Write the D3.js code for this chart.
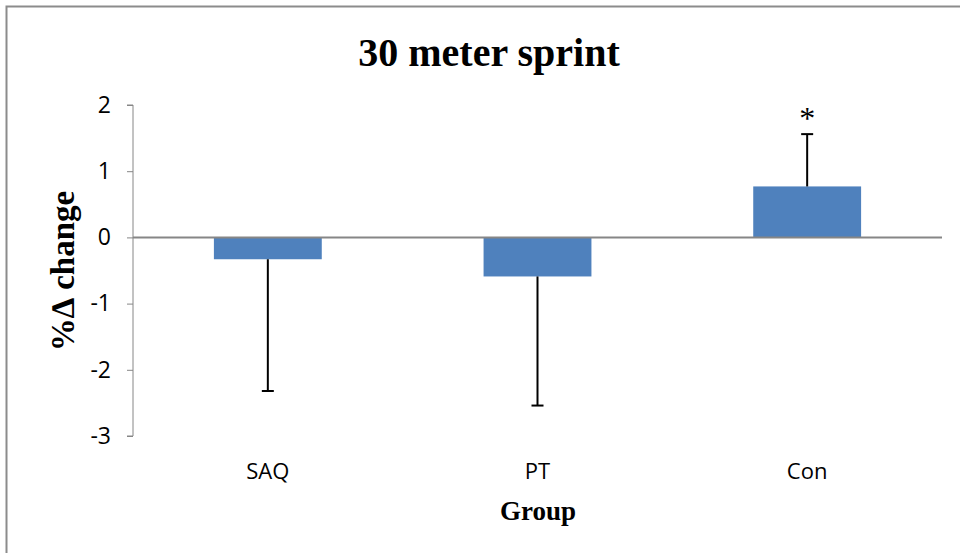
<!DOCTYPE html>
<html>
<head>
<meta charset="utf-8">
<script src="https://cdn.jsdelivr.net/npm/d3@7"></script>
<style>
  body { margin: 0; background: #fff; }
  svg { display: block; }
</style>
</head>
<body>
<svg id="chart" width="960" height="553"></svg>
<script>
// Chart data
const groups = ['SAQ', 'PT', 'Con'];
const means = [-0.33, -0.59, 0.77];
const errLow = [-2.32, -2.54, null];   // error bar end below the bar
const errHigh = [null, null, 1.56];    // error bar end above the bar
const marks = ['', '', '*'];
const yTicks = [2, 1, 0, -1, -2, -3];

const svg = d3.select('#chart');
const W = 960, H = 553;
const plot = {left: 133, right: 942, top: 105, bottom: 436};
const sans = '"Open Sans", "Liberation Sans", sans-serif';
const serif = '"Liberation Serif", "DejaVu Serif", serif';

// Outer frame (only left and top edges fall inside the picture)
svg.append('rect')
  .attr('x', 6.5).attr('y', 6.5)
  .attr('width', W + 10).attr('height', H + 10)
  .style('fill', 'none')
  .style('stroke', '#8c8c8c')
  .style('stroke-width', 2);

const x = d3.scaleBand()
  .domain(groups)
  .range([plot.left, plot.right])
  .paddingInner(0.6)
  .paddingOuter(0.3);

const y = d3.scaleLinear()
  .domain([-3, 2])
  .range([plot.bottom, plot.top]);

// Y axis
const yAxis = svg.append('g')
  .attr('transform', `translate(${plot.left}, 0)`)
  .call(d3.axisLeft(y).tickValues(yTicks).tickSize(6).tickPadding(16)
    .tickFormat(d => String(d)));
yAxis.select('.domain').attr('d', `M-6,${y(2)}H0V${y(-3)}H-6`).style('stroke', '#868686');
yAxis.selectAll('.tick line').style('stroke', '#868686');
yAxis.selectAll('.tick text')
  .style('font-family', sans)
  .style('font-size', '23px')
  .style('fill', '#000');

// Bars
const barG = svg.append('g').attr('class', 'bar-group');
barG.selectAll('rect')
  .data(groups)
  .join('rect')
  .attr('x', d => x(d))
  .attr('width', x.bandwidth())
  .attr('y', (d, i) => y(Math.max(0, means[i])))
  .attr('height', (d, i) => Math.abs(y(means[i]) - y(0)))
  .style('fill', '#4f81bd');

// Zero line
svg.append('line')
  .attr('x1', plot.left).attr('x2', plot.right)
  .attr('y1', y(0)).attr('y2', y(0))
  .style('stroke', '#868686')
  .style('stroke-width', 2);

// Error bars
const errG = svg.append('g').attr('class', 'error-group');
groups.forEach((g, i) => {
  const cx = x(g) + x.bandwidth() / 2;
  const end = errLow[i] !== null ? errLow[i] : errHigh[i];
  errG.append('line')
    .attr('x1', cx).attr('x2', cx)
    .attr('y1', y(means[i])).attr('y2', y(end))
    .style('stroke', '#000').style('stroke-width', 2);
  errG.append('line')
    .attr('x1', cx - 6).attr('x2', cx + 6)
    .attr('y1', y(end)).attr('y2', y(end))
    .style('stroke', '#000').style('stroke-width', 2);
  if (marks[i]) {
    svg.append('text')
      .attr('x', cx)
      .attr('y', y(end) - 5)
      .style('text-anchor', 'middle')
      .style('font-family', serif)
      .style('font-size', '32px')
      .text(marks[i]);
  }
});

// Category labels
svg.append('g').selectAll('text')
  .data(groups)
  .join('text')
  .attr('x', d => x(d) + x.bandwidth() / 2)
  .attr('y', 479)
  .style('text-anchor', 'middle')
  .style('font-family', sans)
  .style('font-size', '22px')
  .text(d => d);

// Title and axis titles
svg.append('text')
  .attr('x', 489).attr('y', 66)
  .style('text-anchor', 'middle')
  .style('font-family', serif)
  .style('font-weight', 'bold')
  .style('font-size', '40px')
  .text('30 meter sprint');

svg.append('text')
  .attr('x', 538).attr('y', 520)
  .style('text-anchor', 'middle')
  .style('font-family', serif)
  .style('font-weight', 'bold')
  .style('font-size', '27px')
  .text('Group');

svg.append('text')
  .attr('transform', 'translate(74, 271) rotate(-90)')
  .style('text-anchor', 'middle')
  .style('font-family', serif)
  .style('font-weight', 'bold')
  .style('font-size', '33px')
  .text('%∆ change');
</script>
</body>
</html>
